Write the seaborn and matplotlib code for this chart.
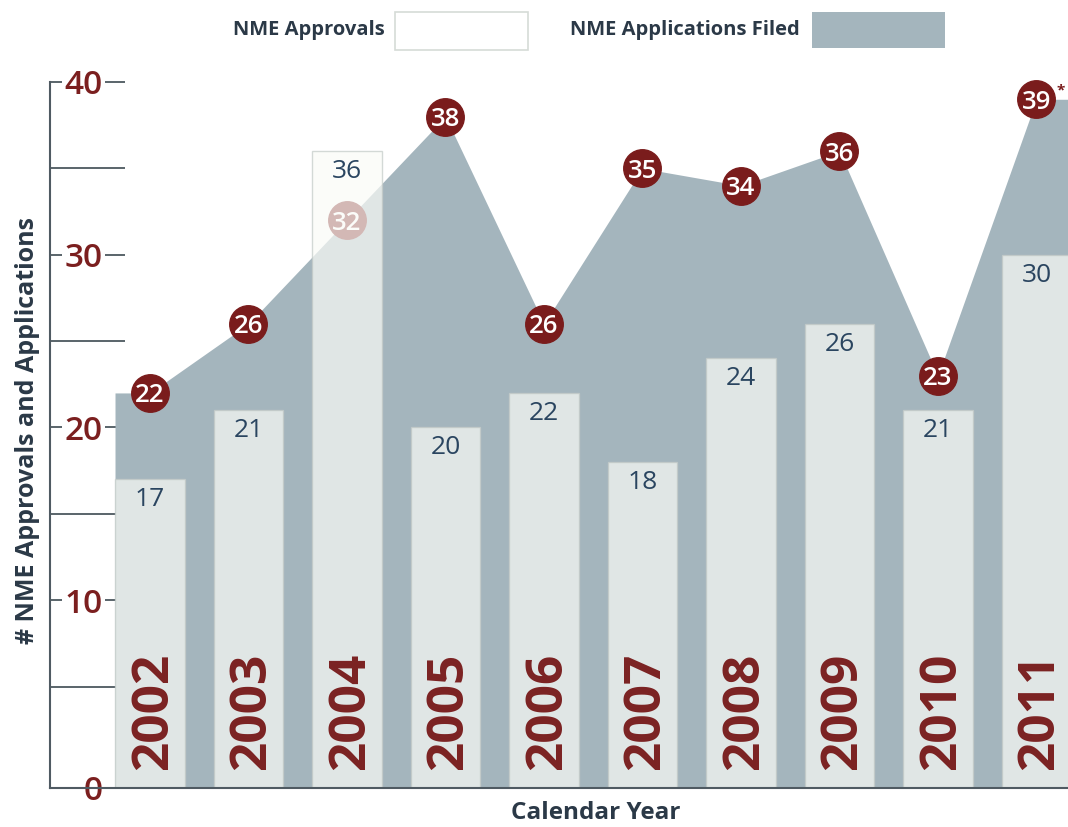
import numpy as np
import pandas as pd
import matplotlib
matplotlib.use("Agg")
import matplotlib.pyplot as plt
import seaborn as sns
from matplotlib.patches import Rectangle

# ---- data ----
years = ["2002", "2003", "2004", "2005", "2006", "2007", "2008", "2009", "2010", "2011"]
approvals = [17, 21, 36, 20, 22, 18, 24, 26, 21, 30]
applications = [22, 26, 32, 38, 26, 35, 34, 36, 23, 39]
y_major = [10, 20, 30, 40]
y_minor = [5, 15, 25, 35]

AREA = "#a4b5bd"
DARKRED = "#7a1c1c"
SLATE = "#2b3947"
VALBLUE = "#2a4560"

sns.set_theme(style="white")
plt.rcParams["font.family"] = ["Open Sans", "DejaVu Sans"]

W, H = 1068, 827
fig = plt.figure(figsize=(W / 100, H / 100), dpi=100)
ax = fig.add_axes([50 / W, 39 / H, (W - 50) / W, (788 - 82) / H])

ybot = -0.87
n = len(years)
xs = np.arange(n)
half = 0.355
xright = (W - 150) / 98.5

# area (applications filed)
area_x = np.concatenate([[-half], xs, [xright + 0.5]])
area_y = np.concatenate([[applications[0]], applications, [applications[-1]]])
ax.fill_between(area_x, ybot, area_y, color=AREA, lw=0, zorder=1)

# markers
ax.plot(xs, applications, linestyle="none", marker="o", ms=27,
        color=DARKRED, mec=DARKRED, zorder=1.5, clip_on=False)
for x, v in zip(xs, applications):
    ax.text(x, v, str(v), ha="center", va="center_baseline", color="white",
            fontsize=18.5, fontweight="semibold", zorder=1.6)
ax.text(xs[-1] + 0.2, applications[-1] + 0.5, "*", ha="left", va="center",
        color=DARKRED, fontsize=11, fontweight="bold", zorder=1.6, clip_on=False)

# bars (approvals)
df = pd.DataFrame({"year": years, "approvals": approvals})
sns.barplot(data=df, x="year", y="approvals", color="#fafbf7", saturation=1,
            alpha=0.7, width=0.71, edgecolor="#c2cac7", linewidth=1.0,
            ax=ax, zorder=2)
for p in ax.patches:
    top = p.get_y() + p.get_height()
    p.set_y(ybot)
    p.set_height(top - ybot)

# value labels
for x, v in zip(xs, approvals):
    ax.text(x, v - 0.45, str(v), ha="center", va="top", color=VALBLUE,
            fontsize=19, fontweight="medium", zorder=3)

# year labels
for x, y in zip(xs, years):
    ax.text(x + 0.04, 0.15, y, rotation=90, ha="center", va="bottom",
            color="#7b2222", fontsize=37, fontweight="bold", zorder=3)

# axes styling
ax.set_xlim(-1.015, xright)
ax.set_ylim(ybot, 40)
ax.set_xlabel("")
ax.set_ylabel("")
for s in ["top", "right"]:
    ax.spines[s].set_visible(False)
for s in ["left", "bottom"]:
    ax.spines[s].set_color("#4f5a62")
    ax.spines[s].set_linewidth(1.5)

ax.set_xticks(xs[:-1] + 0.5)
ax.set_xticklabels([])
ax.tick_params(axis="x", direction="in", length=11, width=1.2,
               color="#3d4a52", bottom=True)

ax.set_yticks([ybot] + y_major)
ax.set_yticklabels(["0"] + [str(v) for v in y_major])
ax.set_yticks(y_minor, minor=True)
ax.tick_params(axis="y", which="both", direction="in", length=54, width=1.2,
               color="#3d4a52", left=True)
ax.tick_params(axis="y", which="major", pad=-38, labelsize=24,
               labelcolor="#7b1f1f")
for lab in ax.get_yticklabels():
    lab.set_fontweight("semibold")
    lab.set_bbox(dict(boxstyle="square,pad=0.08", facecolor="white",
                      edgecolor="none"))
ax.grid(False)

# axis titles
fig.text(28 / W, 1 - 430 / H, "# NME Approvals and Applications", rotation=90,
         ha="center", va="center", fontsize=18, fontweight="bold", color=SLATE)
fig.text(596 / W, 1 - 813 / H, "Calendar Year", ha="center", va="center",
         fontsize=17.5, fontweight="bold", color=SLATE)

# legend
fig.text(385 / W, 1 - 30 / H, "NME Approvals", ha="right", va="center",
         fontsize=14.5, fontweight="bold", color=SLATE)
fig.add_artist(Rectangle((395 / W, 1 - 50 / H), 133 / W, 38 / H,
                         transform=fig.transFigure, facecolor="white",
                         edgecolor="#d6dbd7", lw=1.2))
fig.text(800 / W, 1 - 30 / H, "NME Applications Filed", ha="right", va="center",
         fontsize=14.5, fontweight="bold", color=SLATE)
fig.add_artist(Rectangle((812 / W, 1 - 48 / H), 133 / W, 36 / H,
                         transform=fig.transFigure, facecolor=AREA,
                         edgecolor="none"))

fig.savefig("out.png", dpi=100)
